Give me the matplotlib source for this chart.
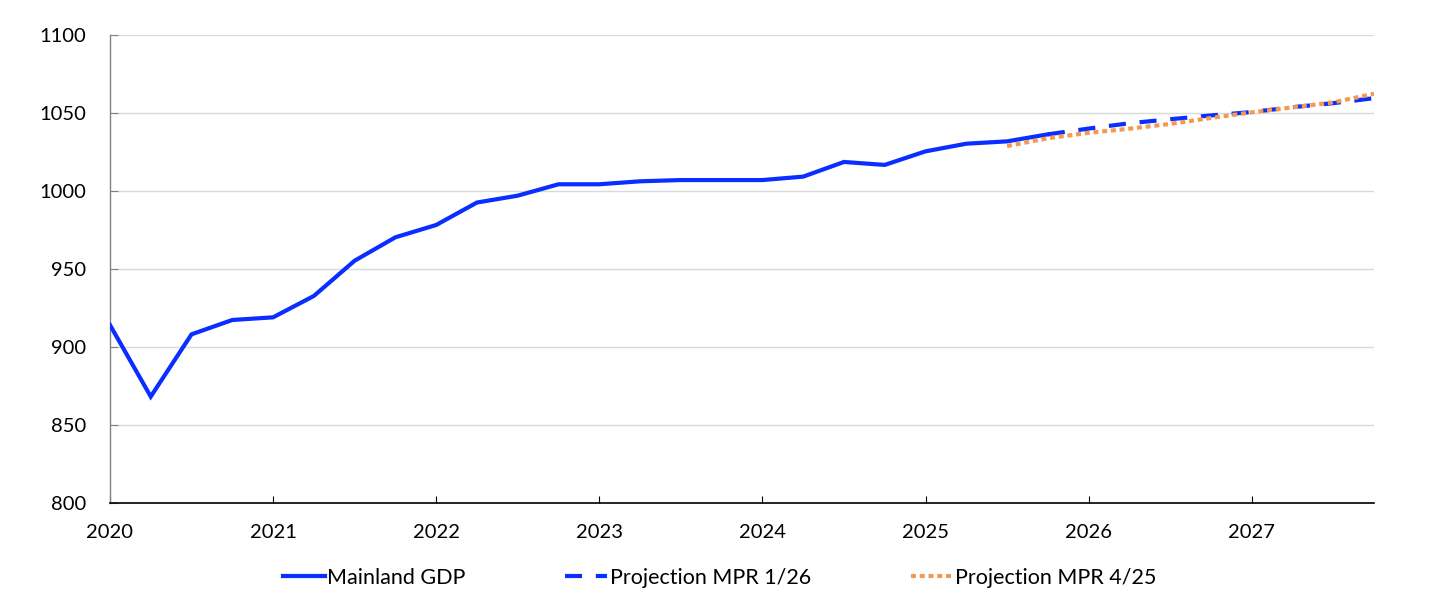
import numpy as np
import matplotlib.pyplot as plt

plt.rcParams['font.family'] = ['Lato', 'DejaVu Sans']

# kvartalsvise verdier, 2020K1 = 2020.0
gdp_start = 2020.0
gdp = [914.1, 868.2, 908.1, 917.3,
       919.0, 932.7, 955.3, 970.3,
       978.2, 992.6, 997.0, 1004.3,
       1004.3, 1006.2, 1007.0, 1007.0,
       1007.0, 1009.2, 1018.6, 1016.7,
       1025.4, 1030.3, 1031.8, 1036.3]

# Projection MPR 1/26, fra 2025K4
mpr126_start = 2025.75
mpr126 = [1036.3, 1040.0, 1043.4, 1046.0, 1048.4,
          1050.6, 1053.7, 1056.3, 1059.5]

# Projection MPR 4/25, fra 2025K3
mpr425_start = 2025.5
mpr425 = [1028.8, 1033.8, 1037.3, 1039.9, 1043.0, 1046.8,
          1050.4, 1053.6, 1056.8, 1062.3]

years = list(range(2020, 2028))
yticks = [800, 850, 900, 950, 1000, 1050, 1100]

blue = "#0A2EFF"
orange = "#F4994F"


def quarters(start, n):
    return start + 0.25 * np.arange(n)


fig = plt.figure(figsize=(14.45, 6.02), dpi=100)
ax = fig.add_axes([0.0761, 0.1645, 0.8748, 0.7774])

ax.plot(quarters(gdp_start, len(gdp)), gdp, color=blue, lw=3,
        solid_joinstyle="miter", label="Mainland GDP", zorder=3)
ax.plot(quarters(mpr126_start, len(mpr126)), mpr126, color=blue, lw=3,
        dashes=(4.1, 3.3), label="Projection MPR 1/26", zorder=4)
ax.plot(quarters(mpr425_start, len(mpr425)), mpr425, color=orange, lw=3,
        dashes=(1.2, 0.9), label="Projection MPR 4/25", zorder=5)

ax.set_xlim(2020, 2027.75)
ax.set_ylim(800, 1100)
ax.set_xticks(years)
ax.set_xticklabels([str(y) for y in years])
ax.set_yticks(yticks)

ax.grid(axis="y", color="#D9D9D9", lw=1)
ax.set_axisbelow(True)
for s in ["top", "right"]:
    ax.spines[s].set_visible(False)
ax.spines["left"].set_color("#808080")
ax.spines["bottom"].set_color("#000000")
ax.spines["left"].set_linewidth(1)
ax.spines["bottom"].set_linewidth(1.2)

ax.tick_params(axis="y", direction="in", length=6, color="#808080",
               pad=17, labelsize=14.5)
ax.tick_params(axis="x", direction="in", length=5, color="#000000",
               pad=15, labelsize=14.5)

ax.legend(loc="center", bbox_to_anchor=(0.498, 0.04),
          bbox_transform=fig.transFigure, ncol=3, frameon=False,
          fontsize=15.5, handlelength=1.95, handletextpad=0.1,
          columnspacing=4.65)

fig.savefig("out.png", dpi=100)
